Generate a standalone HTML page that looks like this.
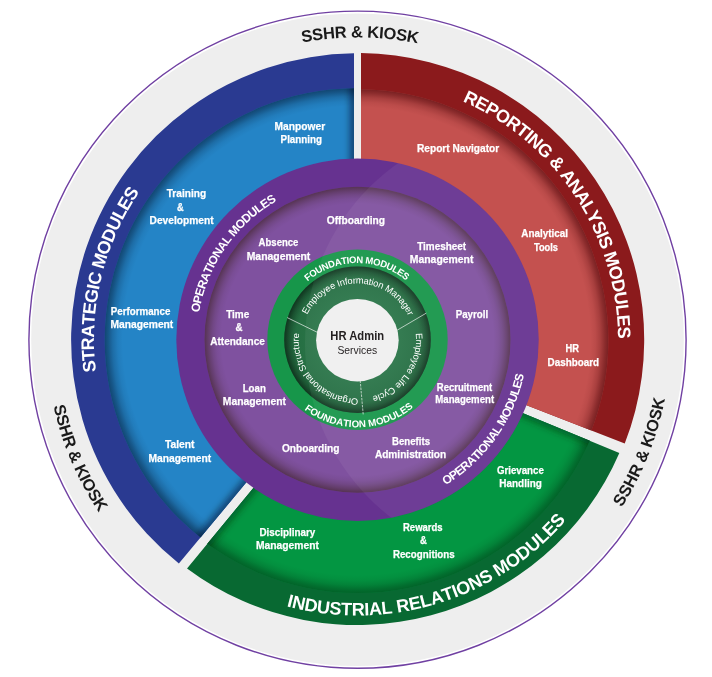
<!DOCTYPE html>
<html lang="en"><head><meta charset="utf-8"><title>HR Modules</title>
<style>
html,body{margin:0;padding:0;background:#fff;}
body{width:712px;height:677px;overflow:hidden;}
svg{display:block;will-change:transform;}
text{font-family:"Liberation Sans",sans-serif;}
.lbl{font-weight:bold;fill:#fff;}
.cv{font-kerning:none;text-rendering:geometricPrecision;}
</style></head><body>
<svg width="712" height="677" viewBox="0 0 712 677">
<defs>
<filter id="b4" filterUnits="userSpaceOnUse" x="0" y="0" width="712" height="677"><feGaussianBlur stdDeviation="3.5"/></filter>
<radialGradient id="g_sec_blue" cx="356.5" cy="340.0" r="253.8" gradientUnits="userSpaceOnUse"><stop offset="0.0000" stop-color="#000a20" stop-opacity="0.000"/><stop offset="0.9212" stop-color="#000a20" stop-opacity="0.000"/><stop offset="0.9409" stop-color="#000a20" stop-opacity="0.060"/><stop offset="0.9606" stop-color="#000a20" stop-opacity="0.190"/><stop offset="0.9783" stop-color="#000a20" stop-opacity="0.380"/><stop offset="0.9921" stop-color="#000a20" stop-opacity="0.500"/><stop offset="1.0000" stop-color="#000a20" stop-opacity="0.500"/></radialGradient>
<radialGradient id="g_sec_red" cx="357.8" cy="339.9" r="252.6" gradientUnits="userSpaceOnUse"><stop offset="0.0000" stop-color="#480004" stop-opacity="0.000"/><stop offset="0.9208" stop-color="#480004" stop-opacity="0.000"/><stop offset="0.9406" stop-color="#480004" stop-opacity="0.072"/><stop offset="0.9604" stop-color="#480004" stop-opacity="0.228"/><stop offset="0.9782" stop-color="#480004" stop-opacity="0.456"/><stop offset="0.9921" stop-color="#480004" stop-opacity="0.600"/><stop offset="1.0000" stop-color="#480004" stop-opacity="0.600"/></radialGradient>
<radialGradient id="g_sec_green" cx="357.5" cy="339.7" r="255.3" gradientUnits="userSpaceOnUse"><stop offset="0.0000" stop-color="#003010" stop-opacity="0.000"/><stop offset="0.9217" stop-color="#003010" stop-opacity="0.000"/><stop offset="0.9412" stop-color="#003010" stop-opacity="0.060"/><stop offset="0.9608" stop-color="#003010" stop-opacity="0.190"/><stop offset="0.9785" stop-color="#003010" stop-opacity="0.380"/><stop offset="0.9922" stop-color="#003010" stop-opacity="0.500"/><stop offset="1.0000" stop-color="#003010" stop-opacity="0.500"/></radialGradient>
<radialGradient id="g_pur" cx="357.5" cy="339.7" r="155" gradientUnits="userSpaceOnUse">
<stop offset="0.0000" stop-color="#2a1400" stop-opacity="0.000"/><stop offset="0.8774" stop-color="#2a1400" stop-opacity="0.000"/><stop offset="0.9097" stop-color="#2a1400" stop-opacity="0.060"/><stop offset="0.9355" stop-color="#2a1400" stop-opacity="0.160"/><stop offset="0.9613" stop-color="#2a1400" stop-opacity="0.310"/><stop offset="0.9774" stop-color="#2a1400" stop-opacity="0.420"/><stop offset="0.9871" stop-color="#2a1400" stop-opacity="0.480"/><stop offset="1.0000" stop-color="#2a1400" stop-opacity="0.480"/>
</radialGradient>
<radialGradient id="g_grn" cx="357.5" cy="339.7" r="75.3" gradientUnits="userSpaceOnUse">
<stop offset="0.0000" stop-color="#000" stop-opacity="0.000"/><stop offset="0.8101" stop-color="#000" stop-opacity="0.000"/><stop offset="0.8632" stop-color="#000" stop-opacity="0.060"/><stop offset="0.9097" stop-color="#000" stop-opacity="0.170"/><stop offset="0.9469" stop-color="#000" stop-opacity="0.320"/><stop offset="0.9734" stop-color="#000" stop-opacity="0.420"/><stop offset="1.0093" stop-color="#000" stop-opacity="0.420"/>
</radialGradient>
<radialGradient id="gdg" cx="357.5" cy="339.7" r="73.3" gradientUnits="userSpaceOnUse">
<stop offset="0.55" stop-color="#2a7548"/><stop offset="0.85" stop-color="#256e42"/><stop offset="1" stop-color="#1c5c36"/>
</radialGradient>

<clipPath id="cp_blue"><path d="M247.42,481.11 L197.15,541.57 A257.80,257.80 0 0 1 354.00,81.92 L354.00,160.53 A179.20,179.20 0 0 0 247.42,481.11 Z"/></clipPath>
<clipPath id="cpc_blue"><circle cx="356.5" cy="340.0" r="251.8"/></clipPath>
<clipPath id="cp_red"><path d="M361.00,160.53 L361.00,83.12 A256.60,256.60 0 0 1 596.70,432.58 L524.62,404.39 A179.20,179.20 0 0 0 361.00,160.53 Z"/></clipPath>
<clipPath id="cpc_red"><circle cx="357.8" cy="339.9" r="250.6"/></clipPath>
<clipPath id="cp_green"><path d="M521.29,412.40 L595.32,443.04 A259.30,259.30 0 0 1 203.58,548.37 L254.59,486.40 A179.20,179.20 0 0 0 521.29,412.40 Z"/></clipPath>
<clipPath id="cpc_green"><circle cx="357.5" cy="339.7" r="253.3"/></clipPath>
<clipPath id="cp_pout"><circle cx="357.5" cy="339.7" r="181.2"/></clipPath>
<clipPath id="cp_pin"><circle cx="357.5" cy="339.7" r="153"/></clipPath>
<clipPath id="cp_gin"><circle cx="357.5" cy="339.7" r="73.3"/></clipPath>
<path id="tp_sshr_t" d="M186.28,90.57 A302.30,302.30 0 0 1 532.40,93.13" fill="none"/>
<path id="tp_sshr_l" d="M52.96,276.63 A311.00,311.00 0 0 0 190.86,602.29" fill="none"/>
<path id="tp_sshr_r" d="M530.71,600.40 A313.00,313.00 0 0 0 662.48,269.29" fill="none"/>
<path id="tp_strat" d="M130.93,474.23 A263.50,263.50 0 0 1 217.09,116.73" fill="none"/>
<path id="tp_rep" d="M358.41,79.20 A260.50,260.50 0 0 1 596.67,442.95" fill="none"/>
<path id="tp_ind" d="M182.44,552.82 A275.80,275.80 0 0 0 620.97,421.26" fill="none"/>
<path id="tp_op1" d="M201.37,377.76 A160.70,160.70 0 0 1 338.75,180.10" fill="none"/>
<path id="tp_op2" d="M380.28,508.17 A170.00,170.00 0 0 0 523.91,304.94" fill="none"/>
<path id="tp_f1" d="M288.86,305.48 A76.70,76.70 0 0 1 425.22,303.69" fill="none"/>
<path id="tp_f2" d="M281.33,382.97 A87.60,87.60 0 0 0 435.13,380.28" fill="none"/>
<path id="tp_eim" d="M301.47,335.29 A56.20,56.20 0 0 1 413.67,337.84" fill="none"/>
<path id="tp_elc" d="M409.01,311.97 A58.50,58.50 0 0 1 349.66,397.67" fill="none"/>
<path id="tp_os" d="M379.81,394.10 A58.80,58.80 0 0 1 305.78,311.73" fill="none"/>
</defs>
<rect width="712" height="677" fill="#fff"/>
<circle cx="357.5" cy="339.7" r="328.6" fill="#fff" stroke="#7040a2" stroke-width="1.4" shape-rendering="auto"/>
<circle cx="357.5" cy="339.7" r="326.3" fill="#eeeeee"/>
<path d="M247.42,481.11 L178.87,563.56 A286.40,286.40 0 0 1 354.00,53.32 L354.00,160.53 A179.20,179.20 0 0 0 247.42,481.11 Z" fill="#2a3a91"/>
<g clip-path="url(#cp_blue)"><g clip-path="url(#cpc_blue)">
<circle cx="356.5" cy="340.0" r="252.8" fill="#2484c6"/>
<circle cx="356.5" cy="340.0" r="252.8" fill="url(#g_sec_blue)"/>
<line x1="251.26" y1="476.49" x2="195.88" y2="543.10" stroke="#000a20" stroke-width="7" stroke-opacity="0.600" filter="url(#b4)"/>
<line x1="354.00" y1="166.54" x2="354.00" y2="79.92" stroke="#000a20" stroke-width="7" stroke-opacity="0.600" filter="url(#b4)"/>
</g></g>
<path d="M361.00,160.53 L361.00,53.02 A286.70,286.70 0 0 1 624.74,443.54 L524.62,404.39 A179.20,179.20 0 0 0 361.00,160.53 Z" fill="#8b1a1c"/>
<g clip-path="url(#cp_red)"><g clip-path="url(#cpc_red)">
<circle cx="357.8" cy="339.9" r="251.6" fill="#c4514f"/>
<circle cx="357.8" cy="339.9" r="251.6" fill="url(#g_sec_red)"/>
</g></g>
<path d="M521.29,412.40 L619.34,452.99 A285.30,285.30 0 0 1 187.03,568.47 L254.59,486.40 A179.20,179.20 0 0 0 521.29,412.40 Z" fill="#086932"/>
<g clip-path="url(#cp_green)"><g clip-path="url(#cpc_green)">
<circle cx="357.5" cy="339.7" r="254.3" fill="#039642"/>
<circle cx="357.5" cy="339.7" r="254.3" fill="url(#g_sec_green)"/>
<line x1="515.75" y1="410.10" x2="597.17" y2="443.81" stroke="#003010" stroke-width="7" stroke-opacity="0.600" filter="url(#b4)"/>
<line x1="258.41" y1="481.75" x2="202.30" y2="549.92" stroke="#003010" stroke-width="7" stroke-opacity="0.600" filter="url(#b4)"/>
</g></g>
<circle cx="357.5" cy="339.7" r="181.2" fill="#663290"/>
<circle cx="357.5" cy="339.7" r="153" fill="#7f519f"/>
<circle cx="357.5" cy="339.7" r="153" fill="url(#g_pur)"/>
<circle cx="357.5" cy="339.7" r="90.2" fill="#17964a"/>
<circle cx="357.5" cy="339.7" r="73.3" fill="url(#gdg)"/>
<circle cx="357.5" cy="339.7" r="73.3" fill="url(#g_grn)"/>
<line x1="287.2" y1="317.6" x2="318.5" y2="332.9" stroke="#fff" stroke-opacity="0.8" stroke-width="0.8" stroke-dasharray="none"/>
<line x1="396.5" y1="330.6" x2="426.3" y2="313.1" stroke="#fff" stroke-opacity="0.8" stroke-width="0.8" stroke-dasharray="none"/>
<line x1="360.2" y1="380.5" x2="363.2" y2="414.5" stroke="#fff" stroke-opacity="0.8" stroke-width="0.8" stroke-dasharray="2.5 1"/>
<g clip-path="url(#cp_pout)"><circle cx="525.4" cy="342.9" r="220.4" fill="#fff" fill-opacity="0.055"/></g>
<circle cx="357.4" cy="340.2" r="41.3" fill="#f0f0f0"/>
<text class="cv" font-size="16.5" font-weight="bold" fill="#1a1a1a" letter-spacing="-0.272"><textPath href="#tp_sshr_t" startOffset="126.40">SSHR &amp; KIOSK</textPath></text>
<text class="cv" font-size="16.5" font-weight="bold" fill="#1a1a1a" letter-spacing="-0.269"><textPath href="#tp_sshr_l" startOffset="130.20">SSHR &amp; KIOSK</textPath></text>
<text class="cv" font-size="16.5" font-weight="bold" fill="#1a1a1a" letter-spacing="-0.158"><textPath href="#tp_sshr_r" startOffset="131.07">SSHR &amp; KIOSK</textPath></text>
<text class="cv" font-size="18" font-weight="bold" fill="#fff" letter-spacing="-0.621"><textPath href="#tp_strat" startOffset="108.97">STRATEGIC MODULES</textPath></text>
<text class="cv" font-size="18" font-weight="bold" fill="#fff" letter-spacing="-0.607"><textPath href="#tp_rep" startOffset="107.17">REPORTING &amp; ANALYSIS MODULES</textPath></text>
<text class="cv" font-size="18" font-weight="bold" fill="#fff" letter-spacing="-0.188"><textPath href="#tp_ind" startOffset="117.84">INDUSTRIAL RELATIONS MODULES</textPath></text>
<text class="cv" font-size="12" font-weight="bold" fill="#fff" letter-spacing="-0.565"><textPath href="#tp_op1" startOffset="65.45">OPERATIONAL MODULES</textPath></text>
<text class="cv" font-size="12" font-weight="bold" fill="#fff" letter-spacing="-0.620"><textPath href="#tp_op2" startOffset="69.51">OPERATIONAL MODULES</textPath></text>
<text class="cv" font-size="9.5" font-weight="bold" fill="#fff" letter-spacing="-0.372"><textPath href="#tp_f1" startOffset="30.57">FOUNDATION MODULES</textPath></text>
<text class="cv" font-size="9.8" font-weight="bold" fill="#fff" letter-spacing="0.030"><textPath href="#tp_f2" startOffset="35.23">FOUNDATION MODULES</textPath></text>
<text class="cv" font-size="9.3" font-weight="normal" fill="#fff" letter-spacing="-0.143"><textPath href="#tp_eim" startOffset="21.42">Employee Information Manager</textPath></text>
<text class="cv" font-size="9.3" font-weight="normal" fill="#fff" letter-spacing="-0.083"><textPath href="#tp_elc" startOffset="22.42">Employee Life Cycle</textPath></text>
<text class="cv" font-size="9.3" font-weight="normal" fill="#fff" letter-spacing="-0.043"><textPath href="#tp_os" startOffset="22.04">Organisational Structure</textPath></text>
<g class="lbl" font-size="10.8" stroke="#fff" stroke-width="0.25" stroke-linejoin="round">
<text x="274.6" y="129.8" textLength="50.6" lengthAdjust="spacingAndGlyphs">Manpower</text>
<text x="280.6" y="142.6" textLength="41.4" lengthAdjust="spacingAndGlyphs">Planning</text>
<text x="166.7" y="196.6" textLength="39.4" lengthAdjust="spacingAndGlyphs">Training</text>
<text x="176.9" y="210.6" textLength="6.7" lengthAdjust="spacingAndGlyphs">&amp;</text>
<text x="149.6" y="223.6" textLength="64.0" lengthAdjust="spacingAndGlyphs">Development</text>
<text x="110.7" y="315.0" textLength="59.7" lengthAdjust="spacingAndGlyphs">Performance</text>
<text x="110.5" y="328.1" textLength="62.8" lengthAdjust="spacingAndGlyphs">Management</text>
<text x="164.9" y="448.0" textLength="29.6" lengthAdjust="spacingAndGlyphs">Talent</text>
<text x="148.4" y="461.5" textLength="62.9" lengthAdjust="spacingAndGlyphs">Management</text>
<text x="417.0" y="151.8" textLength="82.2" lengthAdjust="spacingAndGlyphs">Report Navigator</text>
<text x="521.3" y="237.3" textLength="46.6" lengthAdjust="spacingAndGlyphs">Analytical</text>
<text x="534.0" y="250.6" textLength="24.0" lengthAdjust="spacingAndGlyphs">Tools</text>
<text x="565.6" y="352.1" textLength="13.5" lengthAdjust="spacingAndGlyphs">HR</text>
<text x="547.6" y="365.6" textLength="51.5" lengthAdjust="spacingAndGlyphs">Dashboard</text>
<text x="496.9" y="473.5" textLength="46.9" lengthAdjust="spacingAndGlyphs">Grievance</text>
<text x="499.3" y="486.7" textLength="42.5" lengthAdjust="spacingAndGlyphs">Handling</text>
<text x="403.0" y="530.6" textLength="39.6" lengthAdjust="spacingAndGlyphs">Rewards</text>
<text x="420.1" y="544.3" textLength="6.9" lengthAdjust="spacingAndGlyphs">&amp;</text>
<text x="392.9" y="557.6" textLength="61.8" lengthAdjust="spacingAndGlyphs">Recognitions</text>
<text x="259.4" y="536.0" textLength="55.9" lengthAdjust="spacingAndGlyphs">Disciplinary</text>
<text x="256.0" y="549.2" textLength="62.9" lengthAdjust="spacingAndGlyphs">Management</text>
<text x="326.7" y="224.1" textLength="58.4" lengthAdjust="spacingAndGlyphs">Offboarding</text>
<text x="258.6" y="245.9" textLength="39.8" lengthAdjust="spacingAndGlyphs">Absence</text>
<text x="246.7" y="259.6" textLength="63.6" lengthAdjust="spacingAndGlyphs">Management</text>
<text x="417.2" y="249.9" textLength="48.9" lengthAdjust="spacingAndGlyphs">Timesheet</text>
<text x="409.8" y="263.4" textLength="63.6" lengthAdjust="spacingAndGlyphs">Management</text>
<text x="455.7" y="317.6" textLength="32.5" lengthAdjust="spacingAndGlyphs">Payroll</text>
<text x="226.2" y="317.7" textLength="23.1" lengthAdjust="spacingAndGlyphs">Time</text>
<text x="235.5" y="331.2" textLength="7.0" lengthAdjust="spacingAndGlyphs">&amp;</text>
<text x="210.2" y="344.7" textLength="54.7" lengthAdjust="spacingAndGlyphs">Attendance</text>
<text x="242.7" y="392.2" textLength="23.1" lengthAdjust="spacingAndGlyphs">Loan</text>
<text x="222.8" y="405.3" textLength="63.2" lengthAdjust="spacingAndGlyphs">Management</text>
<text x="436.8" y="390.5" textLength="55.4" lengthAdjust="spacingAndGlyphs">Recruitment</text>
<text x="435.3" y="403.2" textLength="58.8" lengthAdjust="spacingAndGlyphs">Management</text>
<text x="281.9" y="452.3" textLength="57.6" lengthAdjust="spacingAndGlyphs">Onboarding</text>
<text x="392.1" y="444.7" textLength="37.9" lengthAdjust="spacingAndGlyphs">Benefits</text>
<text x="374.9" y="457.9" textLength="71.3" lengthAdjust="spacingAndGlyphs">Administration</text>
</g>
<text x="330.3" y="339.7" textLength="53.9" lengthAdjust="spacingAndGlyphs" font-size="12.4" font-weight="bold" fill="#231f20">HR Admin</text>
<text x="337.4" y="353.9" textLength="39.7" lengthAdjust="spacingAndGlyphs" font-size="11.5" font-weight="normal" fill="#231f20">Services</text>
</svg></body></html>
